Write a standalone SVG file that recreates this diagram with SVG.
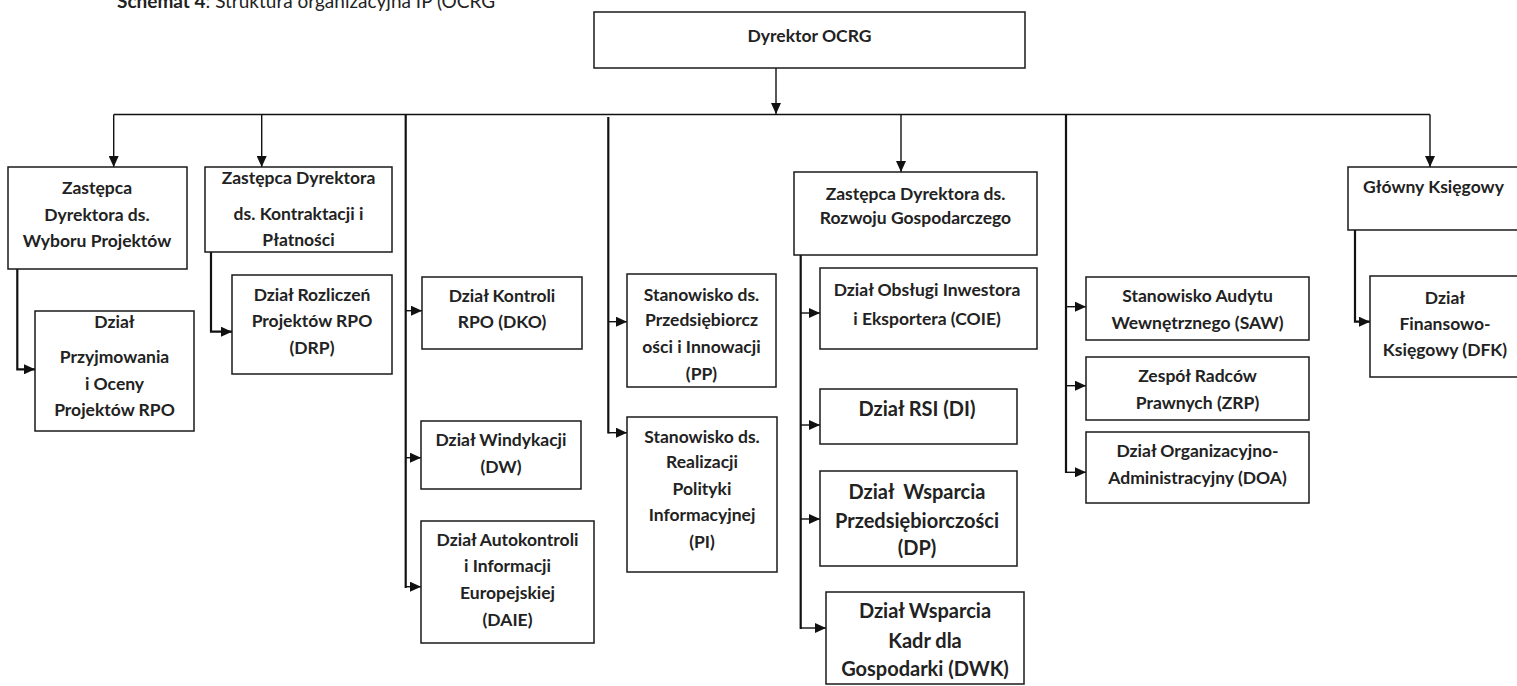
<svg xmlns="http://www.w3.org/2000/svg" width="1517" height="686" viewBox="0 0 1517 686">
<style>
.box{fill:#fff;stroke:#1a1a1a;stroke-width:1.5}
.t{font-family:Lato,"Liberation Sans",sans-serif;font-weight:bold;font-size:17.5px;fill:#222;text-anchor:middle}
.tl{font-size:20px}
.c{fill:none;stroke:#111;stroke-width:1.4}
.ck{fill:none;stroke:#111;stroke-width:2.2}
.ttl{font-family:Lato,"Liberation Sans",sans-serif;font-size:19px;fill:#222}
</style>
<defs>
<marker id="ah" markerUnits="userSpaceOnUse" markerWidth="11" markerHeight="10" refX="11" refY="5" orient="auto">
<path d="M0,0 L11,5 L0,10 z" fill="#111"/>
</marker>
</defs>
<rect width="1517" height="686" fill="#fff"/>
<text class="ttl" x="117" y="7.5"><tspan font-weight="bold">Schemat 4</tspan>: Struktura organizacyjna IP (OCRG</text>

<g id="connectors">
<path class="c" d="M776,68 V114" marker-end="url(#ah)"/>
<path class="c" d="M113.7,114.5 H1430"/>
<path class="c" d="M113.7,114.5 V167" marker-end="url(#ah)"/>
<path class="c" d="M261.7,114.5 V167" marker-end="url(#ah)"/>
<path class="c" d="M901,114.5 V172" marker-end="url(#ah)"/>
<path class="c" d="M1430,114.5 V167" marker-end="url(#ah)"/>
<path class="ck" d="M405.7,114 V588"/>
<path class="c" d="M405.7,310.7 H422" marker-end="url(#ah)"/>
<path class="c" d="M405.7,457.7 H421" marker-end="url(#ah)"/>
<path class="c" d="M405.7,586.7 H421" marker-end="url(#ah)"/>
<path class="ck" d="M608.3,117 V433.5"/>
<path class="c" d="M608.3,321.7 H627" marker-end="url(#ah)"/>
<path class="c" d="M608.3,432.7 H627" marker-end="url(#ah)"/>
<path class="ck" d="M1066,114 V473"/>
<path class="c" d="M1066,306.7 H1086" marker-end="url(#ah)"/>
<path class="c" d="M1066,385.7 H1086" marker-end="url(#ah)"/>
<path class="c" d="M1066,472.3 H1086" marker-end="url(#ah)"/>
<path class="ck" d="M17.3,269 V369.3 H35" marker-end="url(#ah)"/>
<path class="ck" d="M211,252 V331.7 H232" marker-end="url(#ah)"/>
<path class="ck" d="M800.7,255 V629"/>
<path class="c" d="M800.7,313 H820" marker-end="url(#ah)"/>
<path class="c" d="M800.7,425 H820" marker-end="url(#ah)"/>
<path class="c" d="M800.7,519 H820" marker-end="url(#ah)"/>
<path class="c" d="M800.7,628 H826" marker-end="url(#ah)"/>
<path class="ck" d="M1355,230 V321.7 H1370" marker-end="url(#ah)"/>
</g>

<g id="dyrektor">
<rect class="box" x="594" y="12" width="431" height="56"/>
<text class="t" x="809.5" y="42">Dyrektor OCRG</text>
</g>

<g id="zast-wybor">
<rect class="box" x="8" y="167" width="179" height="102"/>
<text class="t" x="97" y="194">Zastępca</text>
<text class="t" x="97" y="220.5">Dyrektora ds.</text>
<text class="t" x="97" y="247">Wyboru Projektów</text>
</g>

<g id="zast-kontrakt">
<rect class="box" x="205" y="167" width="187" height="85"/>
<text class="t" x="298.5" y="184">Zastępca Dyrektora</text>
<text class="t" x="298.5" y="219.5">ds. Kontraktacji i</text>
<text class="t" x="298.5" y="246">Płatności</text>
</g>

<g id="dzial-przyjmowania">
<rect class="box" x="35" y="311" width="159" height="120"/>
<text class="t" x="114.5" y="328">Dział</text>
<text class="t" x="114.5" y="363">Przyjmowania</text>
<text class="t" x="114.5" y="389.5">i Oceny</text>
<text class="t" x="114.5" y="416">Projektów RPO</text>
</g>

<g id="drp">
<rect class="box" x="232" y="275" width="160" height="99"/>
<text class="t" x="312" y="300.5">Dział Rozliczeń</text>
<text class="t" x="312" y="327">Projektów RPO</text>
<text class="t" x="312" y="354">(DRP)</text>
</g>

<g id="dko">
<rect class="box" x="422" y="277" width="160" height="72"/>
<text class="t" x="502" y="302">Dział Kontroli</text>
<text class="t" x="502" y="328">RPO (DKO)</text>
</g>

<g id="dw">
<rect class="box" x="421" y="421" width="160" height="68"/>
<text class="t" x="501" y="446">Dział Windykacji</text>
<text class="t" x="501" y="473">(DW)</text>
</g>

<g id="daie">
<rect class="box" x="421" y="521" width="173" height="122"/>
<text class="t" x="507.5" y="545.5">Dział Autokontroli</text>
<text class="t" x="507.5" y="572">i Informacji</text>
<text class="t" x="507.5" y="599">Europejskiej</text>
<text class="t" x="507.5" y="625.5">(DAIE)</text>
</g>

<g id="pp">
<rect class="box" x="627" y="274" width="149" height="113"/>
<text class="t" x="701.5" y="300.5">Stanowisko ds.</text>
<text class="t" x="701.5" y="326">Przedsiębiorcz</text>
<text class="t" x="701.5" y="352.5">ości i Innowacji</text>
<text class="t" x="701.5" y="379.5">(PP)</text>
</g>

<g id="pi">
<rect class="box" x="627" y="417" width="150" height="155"/>
<text class="t" x="702" y="443">Stanowisko ds.</text>
<text class="t" x="702" y="468">Realizacji</text>
<text class="t" x="702" y="494.5">Polityki</text>
<text class="t" x="702" y="521">Informacyjnej</text>
<text class="t" x="702" y="548">(PI)</text>
</g>

<g id="zast-rozwoj">
<rect class="box" x="794" y="172" width="243" height="83"/>
<text class="t" x="915.5" y="200">Zastępca Dyrektora ds.</text>
<text class="t" x="915.5" y="224">Rozwoju Gospodarczego</text>
</g>

<g id="coie">
<rect class="box" x="820" y="268" width="217" height="81"/>
<text class="t" x="927" y="295.5">Dział Obsługi Inwestora</text>
<text class="t" x="927" y="324.5">i Eksportera (COIE)</text>
</g>

<g id="di">
<rect class="box" x="820" y="389" width="197" height="55"/>
<text class="t tl" x="917" y="416">Dział RSI (DI)</text>
</g>

<g id="dp">
<rect class="box" x="820" y="471" width="197" height="95"/>
<text class="t tl" x="917" y="498.5" xml:space="preserve">Dział  Wsparcia</text>
<text class="t tl" x="917" y="527.5">Przedsiębiorczości</text>
<text class="t tl" x="917" y="555">(DP)</text>
</g>

<g id="dwk">
<rect class="box" x="826" y="592" width="198" height="92"/>
<text class="t tl" x="925" y="618">Dział Wsparcia</text>
<text class="t tl" x="925" y="648">Kadr dla</text>
<text class="t tl" x="925" y="676">Gospodarki (DWK)</text>
</g>

<g id="saw">
<rect class="box" x="1086" y="277" width="223" height="63"/>
<text class="t" x="1197.5" y="302">Stanowisko Audytu</text>
<text class="t" x="1197.5" y="329">Wewnętrznego (SAW)</text>
</g>

<g id="zrp">
<rect class="box" x="1086" y="357" width="223" height="63"/>
<text class="t" x="1197.5" y="382">Zespół Radców</text>
<text class="t" x="1197.5" y="409">Prawnych (ZRP)</text>
</g>

<g id="doa">
<rect class="box" x="1086" y="432" width="223" height="71"/>
<text class="t" x="1197.5" y="457">Dział Organizacyjno-</text>
<text class="t" x="1197.5" y="484">Administracyjny (DOA)</text>
</g>

<g id="glowny">
<rect class="box" x="1348" y="167" width="180" height="63"/>
<text class="t" x="1433.5" y="193">Główny Księgowy</text>
</g>

<g id="dfk">
<rect class="box" x="1370" y="276" width="160" height="101"/>
<text class="t" x="1445" y="303.5">Dział</text>
<text class="t" x="1445" y="330">Finansowo-</text>
<text class="t" x="1445" y="355.5">Księgowy (DFK)</text>
</g>
</svg>
